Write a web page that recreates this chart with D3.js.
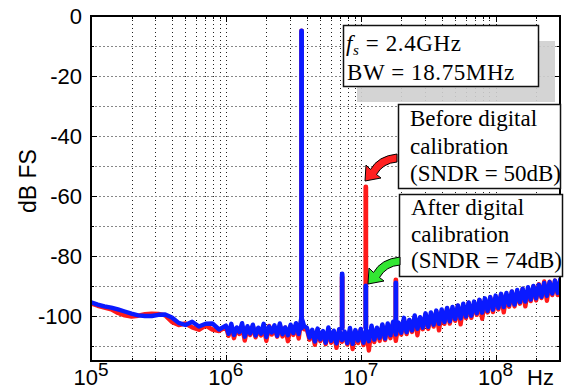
<!DOCTYPE html>
<html><head><meta charset="utf-8">
<script src="https://cdn.jsdelivr.net/npm/d3@7"></script>
<style>body{margin:0;background:#fff} svg{display:block}
.serif{font-family:"Liberation Serif","Times New Roman",Times,serif}
.sans{font-family:"Liberation Sans",Arial,Helvetica,sans-serif}</style>
</head><body><svg id="c" width="573" height="391"></svg>
<script>
// ---------- data ----------
// smooth low-frequency part of spectrum (log10 Hz)
const lowLogF = [5.00,5.05,5.10,5.15,5.20,5.25,5.30,5.35,5.40,5.45,5.50,5.55,5.60,5.65,5.70,5.75,5.80,5.85,5.90,5.95];
const lowBlue = [-95.4,-96.2,-96.8,-97.2,-97.8,-98.5,-99.2,-99.8,-100.0,-100.0,-99.6,-99.5,-100.5,-102.3,-103.0,-101.9,-103.5,-102.6,-102.5,-104.5];
const lowRed  = [-95.8,-96.6,-97.2,-97.8,-99.0,-99.8,-100.2,-99.9,-99.4,-99.2,-99.3,-99.8,-102.0,-103.0,-102.5,-103.8,-104.6,-103.2,-104.5,-105.0];
// noisy part: per-bin max / min (log10 Hz)
const binLogF = [6.00,6.04,6.08,6.12,6.16,6.20,6.24,6.28,6.32,6.36,6.40,6.44,6.48,6.52,6.56,6.60,6.64,6.68,6.72,6.76,6.80,6.84,6.88,6.92,6.96,
                 7.00,7.04,7.08,7.12,7.16,7.20,7.24,7.28,7.32,7.36,7.40,7.44,7.48,7.52,7.56,7.60,7.64,7.68,7.72,7.76,7.80,7.84,7.88,7.92,7.96,
                 8.00,8.04,8.08,8.12,8.16,8.20,8.24,8.28,8.32,8.36,8.40,8.44,8.48];
const blueHi = [-103.2,-102.6,-103.8,-102.4,-103.4,-102.9,-103.9,-102.6,-103.5,-103.1,-102.5,-103.8,-102.9,-102.4,-100.4,-103.9,-104.6,-104.2,-105.0,-103.8,-104.9,-104.4,-105.2,-104.0,-104.7,
                -104.3,-104.6,-103.2,-103.9,-102.8,-102.5,-101.9,-102.2,-100.6,-101.3,-99.8,-100.4,-99.1,-98.8,-98.2,-97.8,-97.3,-97.0,-96.5,-95.9,-95.5,-95.2,-94.6,-94.1,-93.7,
                -93.2,-92.6,-92.3,-91.8,-91.3,-90.9,-90.4,-90.0,-89.6,-89.0,-88.7,-88.2,-87.7];
const blueLo = [-105.9,-106.3,-105.4,-106.9,-105.8,-106.5,-105.9,-107.0,-105.5,-106.6,-106.1,-106.4,-105.7,-106.0,-103.4,-107.2,-108.5,-107.8,-108.9,-108.3,-109.1,-108.0,-109.0,-109.3,-108.2,
                -108.9,-108.4,-107.9,-107.3,-107.5,-106.4,-106.2,-105.6,-105.4,-104.8,-104.3,-103.9,-103.6,-102.9,-102.6,-102.0,-101.8,-101.0,-100.8,-100.2,-99.9,-99.1,-98.9,-98.3,-97.9,
                -97.3,-97.0,-96.3,-96.2,-95.4,-95.2,-94.5,-94.1,-93.6,-93.3,-92.5,-92.3,-91.5];
const redHi = [-103.6,-103.2,-104.1,-103.5,-103.8,-103.3,-104.2,-103.6,-103.3,-104.0,-103.1,-103.9,-103.4,-102.9,-100.8,-104.3,-105.1,-104.5,-105.3,-104.8,-105.2,-104.6,-105.5,-104.9,-105.0,
               -104.5,-104.9,-103.9,-104.2,-103.1,-103.3,-102.2,-102.4,-101.3,-101.5,-100.3,-100.6,-99.4,-99.7,-98.4,-98.6,-97.5,-97.8,-96.6,-96.8,-95.6,-95.9,-94.7,-95.0,-93.8,
               -94.0,-92.8,-93.1,-91.9,-92.2,-91.0,-91.3,-90.1,-89.4,-88.5,-88.6,-88.2,-88.0];
const redLo = [-106.6,-107.4,-106.0,-108.2,-106.3,-107.1,-106.5,-108.3,-106.2,-106.9,-106.8,-108.4,-106.3,-107.5,-104.4,-107.9,-109.6,-108.4,-109.4,-108.9,-110.6,-108.6,-109.5,-111.0,-109.0,
               -109.7,-111.5,-108.7,-108.3,-108.0,-107.4,-108.3,-106.2,-106.0,-105.3,-106.4,-104.4,-104.3,-103.5,-104.8,-102.6,-102.5,-101.6,-102.8,-100.7,-100.6,-99.6,-100.9,-98.8,-98.7,
               -97.8,-98.8,-96.9,-96.8,-95.9,-96.8,-95.0,-94.8,-94.0,-94.9,-93.0,-93.0,-92.2];
// tone and harmonic spurs
const spurFreq = [3.64e6, 7.28e6, 1.09e7, 1.82e7];
const spurBlue = [-5, -86, -90, -89];
const spurRed  = [-5, -87, -57, -88];
const yTicks = [0,-20,-40,-60,-80,-100];
const xDecades = [5,6,7,8];
const beforeLines = ["Before digital","calibration","(SNDR = 50dB)"];
const afterLines = ["After digital","calibration","(SNDR = 74dB)"];

// ---------- layout ----------
const L=91, R=560, T=16, B=361;
const svg = d3.select("#c");
const x = d3.scaleLog().domain([1e5,3e8]).range([L,R]);
const y = d3.scaleLinear().domain([-115,0]).range([B,T]);

// grid
const minorF = [];
for (let k=5;k<=8;k++) for (let m=1;m<=9;m++){ const f=m*Math.pow(10,k); if (f>1e5 && f<3e8) minorF.push(f); }
const grid = svg.append("g");
grid.selectAll("line.v").data(minorF).join("line")
  .attr("x1",d=>Math.round(x(d))+0.5).attr("x2",d=>Math.round(x(d))+0.5)
  .attr("y1",T).attr("y2",B).attr("stroke","#222").attr("stroke-width",1).attr("stroke-dasharray","1,3");
const hLines = d3.range(-110,0,10);
grid.selectAll("line.h").data(hLines).join("line")
  .attr("x1",L).attr("x2",R).attr("y1",d=>Math.round(y(d))+0.5).attr("y2",d=>Math.round(y(d))+0.5)
  .attr("stroke","#888").attr("stroke-width",1).attr("stroke-dasharray","2,2");

// inner ticks
const tk = svg.append("g").attr("stroke","#000").attr("stroke-width",1);
minorF.forEach(f=>{
  const isDec = Math.abs(Math.log10(f)-Math.round(Math.log10(f)))<1e-9;
  const len = isDec?6:3, xx=Math.round(x(f))+0.5;
  tk.append("line").attr("x1",xx).attr("x2",xx).attr("y1",B).attr("y2",B-len);
  tk.append("line").attr("x1",xx).attr("x2",xx).attr("y1",T).attr("y2",T+len);
});
hLines.forEach(v=>{
  const len = (v%20===0)?6:3, yy=Math.round(y(v))+0.5;
  tk.append("line").attr("x1",L).attr("x2",L+len).attr("y1",yy).attr("y2",yy);
  tk.append("line").attr("x1",R).attr("x2",R-len).attr("y1",yy).attr("y2",yy);
});

// clip
svg.append("defs").append("clipPath").attr("id","pc").append("rect")
  .attr("x",L).attr("y",T).attr("width",R-L).attr("height",B-T);

function series(low, hi, lo){
  const pts = lowLogF.map((v,i)=>[Math.pow(10,v), low[i]]);
  binLogF.forEach((v,i)=>{ pts.push([Math.pow(10,v), hi[i]]); pts.push([Math.pow(10,v+0.02), lo[i]]); });
  return pts;
}
const line = d3.line().x(d=>x(d[0])).y(d=>y(d[1]));
const plot = svg.append("g").attr("clip-path","url(#pc)");
function drawSeries(color, low, hi, lo, spur){
  plot.append("path").attr("d", line(series(low,hi,lo))).attr("fill","none")
    .attr("stroke",color).attr("stroke-width",4.4).attr("stroke-linejoin","round").attr("stroke-linecap","round");
  plot.selectAll(null).data(spurFreq.map((f,i)=>[f,spur[i]])).join("line")
    .attr("x1",d=>x(d[0])).attr("x2",d=>x(d[0])).attr("y1",y(-104)).attr("y2",d=>y(d[1]))
    .attr("stroke",color).attr("stroke-width",4.8).attr("stroke-linecap","round");
}
drawSeries("#ff1a1a", lowRed, redHi, redLo, spurRed);
drawSeries("#0a1aff", lowBlue, blueHi, blueLo, spurBlue);

// frame
svg.append("rect").attr("x",L).attr("y",T).attr("width",R-L).attr("height",B-T)
  .attr("fill","none").attr("stroke","#000").attr("stroke-width",2);

// axis labels
svg.selectAll("text.yt").data(yTicks).join("text").attr("class","sans")
  .attr("x",82).attr("y",d=>y(d)+8).attr("text-anchor","end")
  .attr("font-size",22).text(d=>d);
xDecades.forEach(k=>{
  const t = svg.append("text").attr("class","sans").attr("x",x(Math.pow(10,k))).attr("y",385).attr("text-anchor","middle")
    .attr("font-size",22);
  t.append("tspan").text("10");
  t.append("tspan").attr("dy",-9).attr("font-size",19).text(k);
});
svg.append("text").attr("class","sans").attr("x",527).attr("y",385).attr("font-size",22).text("Hz");
svg.append("text").attr("class","sans").attr("transform","translate(36,181) rotate(-90)").attr("text-anchor","middle")
  .attr("font-size",23).text("dB FS");

// annotations
svg.append("rect").attr("x",357).attr("y",41).attr("width",198).attr("height",61).attr("fill","#cfcfcf").attr("opacity",0.9);
svg.append("rect").attr("x",343.5).attr("y",25.5).attr("width",195).attr("height",61).attr("fill","#fff").attr("stroke","#111").attr("stroke-width",1.5);
const t1 = svg.append("text").attr("class","serif").attr("x",346).attr("y",51).attr("font-size",23).attr("letter-spacing",0.6);
t1.append("tspan").attr("font-style","italic").text("f");
t1.append("tspan").attr("font-style","italic").attr("font-size",15).attr("dy",4).text("s");
t1.append("tspan").attr("dy",-4).text(" = 2.4GHz");
svg.append("text").attr("class","serif").attr("x",347).attr("y",80).attr("font-size",23).attr("letter-spacing",0.6).text("BW = 18.75MHz");

function box(x0,y0,w,h,lines,tx,base,step){
  svg.append("rect").attr("x",x0).attr("y",y0).attr("width",w).attr("height",h).attr("fill","#fff").attr("stroke","#111").attr("stroke-width",1.5);
  const t = svg.append("text").attr("class","serif").attr("x",tx).attr("y",base).attr("font-size",23);
  lines.forEach((s,i)=>t.append("tspan").attr("x",tx).attr("dy",i===0?0:step).text(s));
}
box(398.5,104.5,162,84,beforeLines,410,126,27.5);
box(399.5,194.5,163,82,afterLines,411,215,26.5);

// curved arrows
const arrowD = "M 365 181 L 366 165 L 370.5 169.5 Q 378 156 397 154 L 397 162 Q 383 163 376.5 174.5 L 381 178 Z";
svg.append("path").attr("d",arrowD).attr("fill","#ff2020").attr("stroke","#000").attr("stroke-width",1).attr("stroke-linejoin","round");
svg.append("path").attr("d",arrowD).attr("transform","translate(3,103)").attr("fill","#33e633").attr("stroke","#000").attr("stroke-width",1).attr("stroke-linejoin","round");
</script></body></html>
